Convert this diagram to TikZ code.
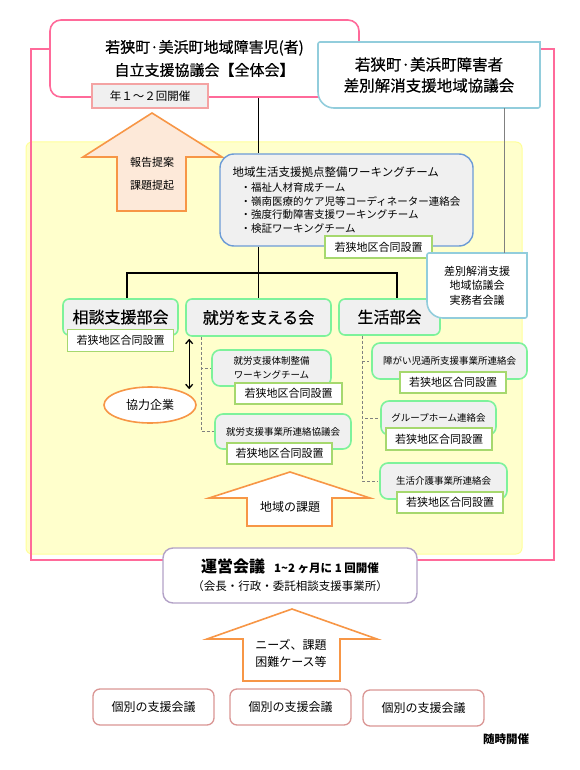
\documentclass[tikz,border=0pt]{standalone}
\usepackage{fontspec}
\setmainfont{Noto Sans CJK JP}
\newfontfamily\jpmid[FakeBold=0.5]{Noto Sans CJK JP}
\usepackage{xcolor}
\usetikzlibrary{arrows.meta,positioning,shapes.geometric}

\definecolor{zentaipink}{HTML}{FF6A9A}
\definecolor{sabetsublue}{HTML}{92CDDC}
\definecolor{wtblue}{HTML}{6C9BD6}
\definecolor{bukaigreen}{HTML}{7DF29B}
\definecolor{lblgreen}{HTML}{A6D86E}
\definecolor{lblpink}{HTML}{F4A3A3}
\definecolor{boxgray}{HTML}{F0F0F0}
\definecolor{areayellow}{HTML}{FFFFCC}
\definecolor{arealine}{HTML}{FFFF99}
\definecolor{arroworange}{HTML}{F79646}
\definecolor{arrowpeach}{HTML}{FDE9D9}
\definecolor{uneipurple}{HTML}{B3A2C7}
\definecolor{kobetsurose}{HTML}{DA9694}
\definecolor{linegray}{HTML}{808080}

% frame with two big and two small corners (left, top, right, bottom)
\newcommand{\diagcorners}[5]{%
  \draw[#1] ({(#2+#4)/2},#3) -- (#4,#3) [rounded corners=2pt] -- (#4,#5)
    [rounded corners=16pt] -- (#2,#5) [rounded corners=2pt] -- (#2,#3)
    [rounded corners=16pt] -- cycle;}

\begin{document}
\begin{tikzpicture}[
  x=1pt, y=-1pt,
  zentai/.style={draw=zentaipink, line width=1.6pt, fill=white, rounded corners=11pt,
                 align=center, font=\jpmid\fontsize{15}{23}\selectfont,
                 minimum width=309pt, minimum height=77pt},
  nenlbl/.style={draw=lblpink, line width=1.3pt, fill=boxgray,
                 font=\fontsize{11.5}{13}\selectfont, minimum width=116pt, minimum height=24pt},
  diagtxt/.style={align=center, inner sep=0pt},
  wtbox/.style={draw=wtblue, line width=1.4pt, fill=boxgray, rounded corners=14pt,
                align=left, font=\fontsize{10.5}{13.5}\selectfont,
                minimum width=253pt, minimum height=92pt},
  lbl/.style={draw=lblgreen, line width=1.3pt, fill=white, inner sep=0pt,
              font=\fontsize{11}{13}\selectfont, minimum width=106pt, minimum height=22pt},
  bukai/.style={draw=bukaigreen, line width=1.6pt, fill=boxgray, rounded corners=6pt,
                font=\jpmid\fontsize{16}{18}\selectfont, minimum height=36pt},
  subbox/.style={draw=bukaigreen, line width=1.6pt, fill=boxgray, rounded corners=8pt,
                 align=center, font=\fontsize{9.5}{14}\selectfont, minimum height=36pt},
  kigyo/.style={ellipse, draw=arroworange, line width=1.6pt, fill=white,
                font=\fontsize{12}{14}\selectfont, minimum width=92pt, minimum height=36pt},
  unei/.style={draw=uneipurple, line width=1.4pt, fill=white, rounded corners=10pt,
               align=center, font=\fontsize{11.5}{18}\selectfont,
               minimum width=254pt, minimum height=55pt},
  kobetsu/.style={draw=kobetsurose, line width=1.3pt, fill=white, rounded corners=7pt,
                  font=\fontsize{12}{14}\selectfont, minimum width=121pt, minimum height=36pt},
  blockarrow/.style={draw=arroworange, line width=1.6pt},
  arrowtxt/.style={align=center, font=\fontsize{11.5}{17}\selectfont},
  conn/.style={line width=1.6pt},
  grayconn/.style={draw=linegray, line width=1pt},
  dashconn/.style={draw=linegray, line width=0.9pt, dash pattern=on 3pt off 2pt},
  twoway/.style={line width=1.3pt, {Straight Barb[length=4pt,width=7pt]}-{Straight Barb[length=4pt,width=7pt]}}]

\useasboundingbox (0,0) rectangle (580,770);

% background area and frame
\draw[draw=arealine, fill=areayellow, line width=1pt, rounded corners=6pt] (26,142) rectangle (522,554);
\draw[draw=zentaipink, line width=1.2pt] (31,49) rectangle (554,560);

% block arrows
\draw[blockarrow, fill=arrowpeach] (152,113) -- (222,157) -- (186,157) -- (186,211)
  -- (117,211) -- (117,157) -- (83,157) -- cycle;
\node[arrowtxt, font=\fontsize{11}{23}\selectfont] (hokoku) at (152,173.5) {報告提案\\課題提起};
\draw[blockarrow, fill=white] (290,472) -- (370,498) -- (332,498) -- (332,526)
  -- (247,526) -- (247,498) -- (209,498) -- cycle;
\node[arrowtxt, font=\fontsize{12}{14}\selectfont] (chiiki) at (290,507) {地域の課題};
\draw[blockarrow, fill=white] (292,609) -- (377,639) -- (340,639) -- (340,681)
  -- (243,681) -- (243,639) -- (207,639) -- cycle;
\node[arrowtxt, font=\fontsize{12}{17}\selectfont] (needs) at (291,653.5) {ニーズ、課題\\困難ケース等};

% top councils
\node[zentai] (zentai) at (204.5,58.5) {若狭町·美浜町地域障害児(者)\\自立支援協議会【全体会】};
\node[nenlbl] (nen) at (150,96) {年１～２回開催};
\diagcorners{draw=sabetsublue, line width=1.6pt, fill=white}{318}{42}{540}{108}
\node[diagtxt, font=\jpmid\fontsize{15.5}{21}\selectfont, minimum width=222pt, minimum height=66pt]
  (sabetsu) at (429,75) {若狭町·美浜町障害者\\差別解消支援地域協議会};

% working team
\node[wtbox] (wt) at (346.5,200) {{\fontsize{11.5}{13.5}\selectfont 地域生活支援拠点整備ワーキングチーム}\\[1.5pt]
  \hspace*{8pt}・福祉人材育成チーム\\
  \hspace*{8pt}・嶺南医療的ケア児等コーディネーター連絡会\\
  \hspace*{8pt}・強度行動障害支援ワーキングチーム\\
  \hspace*{8pt}・検証ワーキングチーム};
\node[lbl, minimum width=107pt] (wtlbl) at (378.5,247) {若狭地区合同設置};

% sub councils
\node[bukai, minimum width=115pt] (soudan) at (120.5,317) {相談支援部会};
\node[lbl, below=-7pt of soudan] (soudanlbl) {若狭地区合同設置};
\node[bukai, minimum width=145pt, minimum height=37pt] (shuro) at (258.5,317.5) {就労を支える会};
\node[bukai, minimum width=101pt] (seikatsu) at (389.5,317) {生活部会};

\diagcorners{draw=sabetsublue, line width=1.6pt, fill=white}{427}{253}{527}{318}
\node[diagtxt, font=\fontsize{11}{14.5}\selectfont, minimum width=100pt, minimum height=65pt]
  (jitsumu) at (477,285.5) {差別解消支援\\地域協議会\\実務者会議};

% meetings under 就労を支える会
\node[subbox, minimum width=119pt] (taisei) at (271.5,368) {就労支援体制整備\\ワーキングチーム};
\node[lbl, minimum width=107pt, minimum height=21pt] (taiseilbl) at (288.5,393.5) {若狭地区合同設置};
\node[subbox, minimum width=136pt, minimum height=35pt] (jigyosho) at (283,431.5) {就労支援事業所連絡協議会};
\node[lbl, minimum width=105pt, minimum height=21pt] (jigyosholbl) at (279.5,453.5) {若狭地区合同設置};
\node[kigyo] (kyoryoku) at (150,405) {協力企業};

% meetings under 生活部会
\node[subbox, minimum width=155pt] (jidou) at (449.5,361) {障がい児通所支援事業所連絡会};
\node[lbl, minimum height=21pt] (jidoulbl) at (453,382.5) {若狭地区合同設置};
\node[subbox, minimum width=115pt, minimum height=34pt] (group) at (438.5,418) {グループホーム連絡会};
\node[lbl] (grouplbl) at (439,439) {若狭地区合同設置};
\node[subbox, minimum width=127pt] (kaigo) at (443.5,481) {生活介護事業所連絡会};
\node[lbl, minimum height=21pt] (kaigolbl) at (450,502.5) {若狭地区合同設置};

% bottom
\node[unei] (unei) at (290,575.5) {{\fontsize{16}{18}\selectfont\bfseries 運営会議}\hspace{9pt}{\bfseries 1\textasciitilde 2 ヶ月に 1 回開催}\\（会長・行政・委託相談支援事業所）};
\node[kobetsu] (kobetsu1) at (153.5,707) {個別の支援会議};
\node[kobetsu] (kobetsu2) at (290.5,707) {個別の支援会議};
\node[kobetsu] (kobetsu3) at (423.5,708) {個別の支援会議};
\node[font=\fontsize{11.5}{13}\selectfont\bfseries] (zuiji) at (506,739) {随時開催};

% connectors
\draw[conn] (zentai.south -| shuro.north) -- (wt.north -| shuro.north);
\draw[conn] (wt.south -| shuro.north) -- (shuro.north);
\draw[conn] ([xshift=6.5pt]soudan.north) |- ([yshift=25pt]shuro.north) -| ([xshift=7.5pt]seikatsu.north);
\draw[grayconn] ([xshift=27pt]jitsumu.north |- sabetsu.south) -- ([xshift=27pt]jitsumu.north);
\foreach \b in {taisei,jigyosho}
  \draw[dashconn] ([xshift=16pt]shuro.south west) |- (\b.west);
\foreach \b in {jidou,group,kaigo}
  \draw[dashconn] ([xshift=24pt]seikatsu.south west) |- ([xshift=-2pt]\b.west);
\draw[twoway] ([xshift=4pt,yshift=-2pt]shuro.south west) -- ([xshift=4pt,yshift=-3pt]shuro.south west |- kyoryoku.north);
\end{tikzpicture}
\end{document}
